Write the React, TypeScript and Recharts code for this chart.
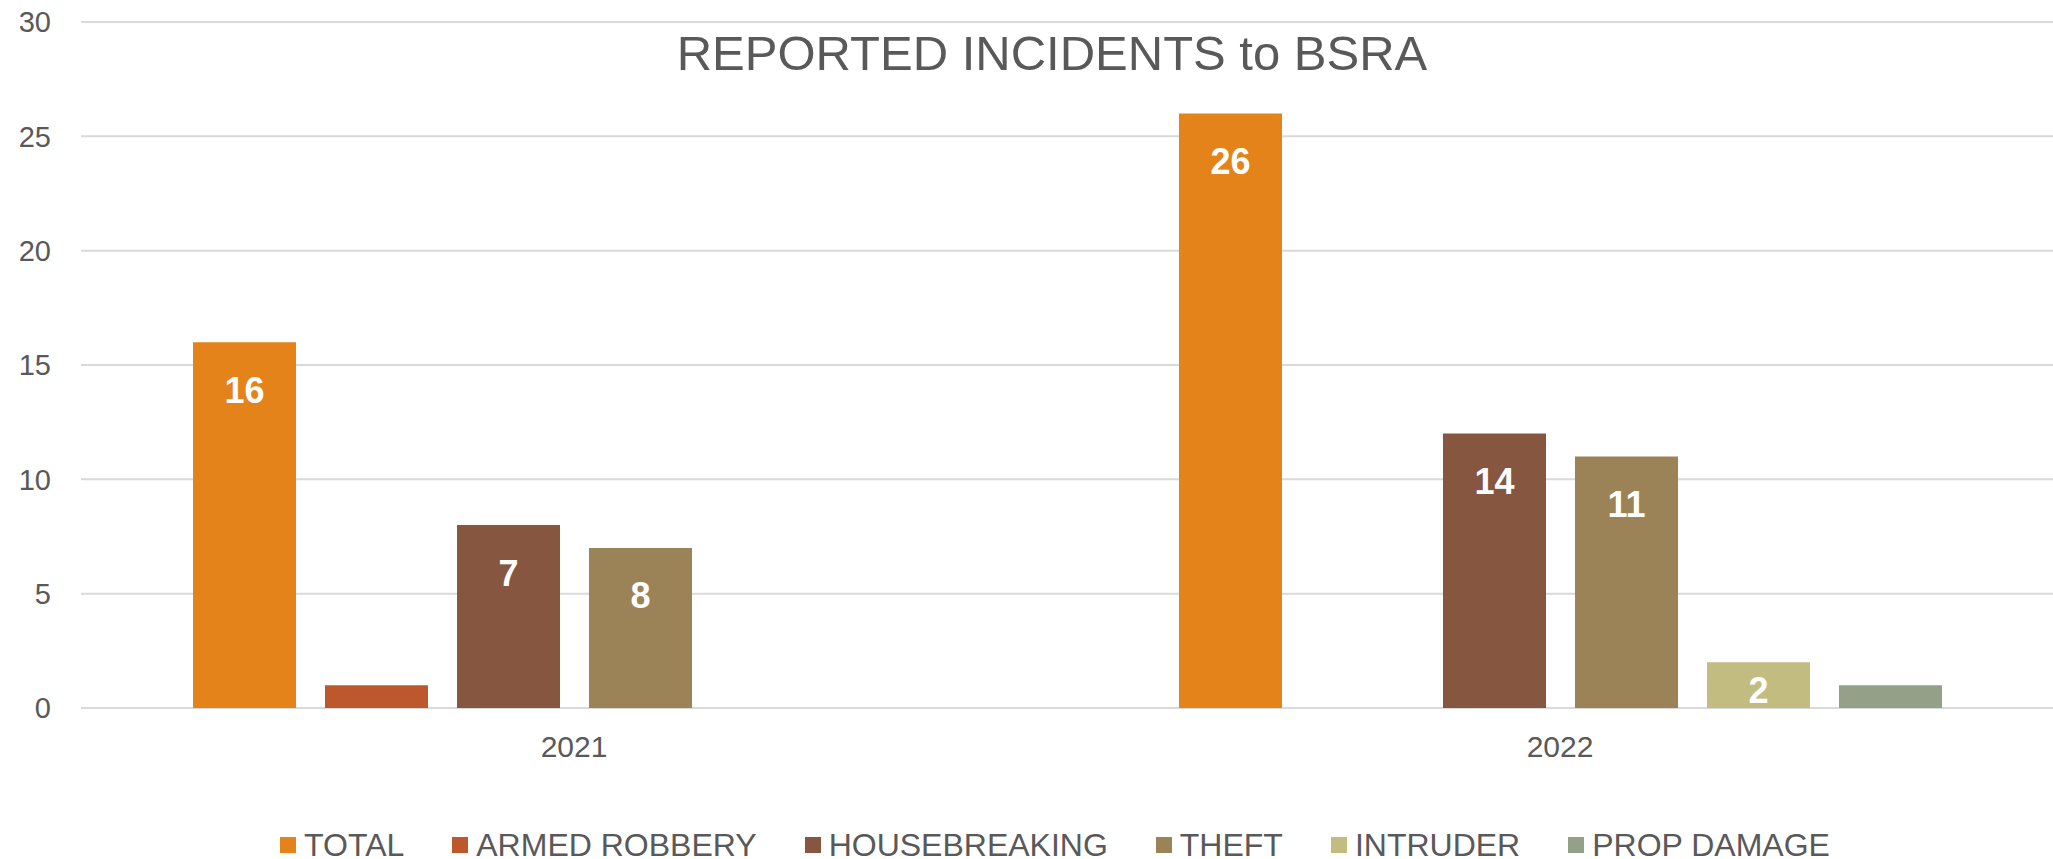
import { BarChart, Bar, XAxis, YAxis, CartesianGrid, Legend, LabelList } from "recharts";

const years = ["2021", "2022"];
const seriesNames = ["TOTAL", "ARMED ROBBERY", "HOUSEBREAKING", "THEFT", "INTRUDER", "PROP DAMAGE"];
const seriesColors = ["#E4831A", "#BD582C", "#865640", "#9B8357", "#C2BC80", "#94A088"];

// bar heights as drawn
const total = [16, 26];
const armedRobbery = [1, 0];
const housebreaking = [8, 12];
const theft = [7, 11];
const intruder = [0, 2];
const propDamage = [0, 1];

// data labels as printed on the bars (they don't always match the bar height)
const totalLabels = ["16", "26"];
const armedLabels = ["", ""];
const houseLabels = ["7", "14"];
const theftLabels = ["8", "11"];
const intruderLabels = ["", "2"];
const propLabels = ["", ""];

const yTicks = [0, 5, 10, 15, 20, 25, 30];

const values = [total, armedRobbery, housebreaking, theft, intruder, propDamage];
const labels = [totalLabels, armedLabels, houseLabels, theftLabels, intruderLabels, propLabels];

const data = years.map((year, i) => {
  const row: Record<string, string | number> = { year };
  seriesNames.forEach((name, s) => {
    row[name] = values[s][i];
    row[name + "_label"] = labels[s][i];
  });
  return row;
});

const FONT = "'Liberation Sans', Arial, sans-serif";
const TEXT = "#595959";

function BarLabel(props: any) {
  const { x, y, width, height, value } = props;
  if (!value) return null;
  const cy = y + Math.min(48, height - 18);
  return (
    <text
      x={x + width / 2}
      y={cy}
      textAnchor="middle"
      dominantBaseline="central"
      fill="#ffffff"
      fontFamily={FONT}
      fontWeight="bold"
      fontSize={36}
    >
      {value}
    </text>
  );
}

function LegendContent() {
  return (
    <div
      style={{
        height: 40,
        display: "flex",
        justifyContent: "center",
        alignItems: "center",
        gap: 48,
        paddingLeft: 57,
        fontFamily: FONT,
        fontSize: 32,
        color: TEXT,
      }}
    >
      {seriesNames.map((name, i) => (
        <div key={name} style={{ display: "flex", alignItems: "center" }}>
          <span
            style={{
              width: 16,
              height: 16,
              background: seriesColors[i],
              marginRight: 8,
              display: "inline-block",
            }}
          />
          <span style={{ lineHeight: "40px" }}>{name}</span>
        </div>
      ))}
    </div>
  );
}

export default function App() {
  return (
    <div style={{ position: "absolute", left: 0, top: 0, width: 2053, height: 859, background: "#fff" }}>
      <div
        style={{
          position: "absolute",
          left: 0,
          top: 23,
          width: 2104,
          textAlign: "center",
          fontFamily: FONT,
          fontSize: 49,
          lineHeight: "60px",
          color: TEXT,
          zIndex: 2,
        }}
      >
        REPORTED INCIDENTS to BSRA
      </div>
      <BarChart
        width={2053}
        height={859}
        data={data}
        margin={{ top: 22, right: 0, left: 3, bottom: 0 }}
        barSize={103}
        barGap={29}
      >
        <CartesianGrid vertical={false} stroke="#D9D9D9" strokeWidth={2} />
        <XAxis
          dataKey="year"
          height={111}
          axisLine={false}
          tickLine={false}
          tickSize={0}
          tickMargin={28}
          tick={{ fill: TEXT, fontSize: 30, fontFamily: FONT }}
        />
        <YAxis
          width={78}
          domain={[0, 30]}
          ticks={yTicks}
          axisLine={false}
          tickLine={false}
          tickSize={0}
          tickMargin={30}
          tick={{ fill: TEXT, fontSize: 29, fontFamily: FONT }}
        />
        <Legend
          verticalAlign="bottom"
          content={<LegendContent />}
          wrapperStyle={{ top: 825, bottom: "auto", left: 0, width: 2053 }}
        />
        {seriesNames.map((name, i) => (
          <Bar key={name} dataKey={name} fill={seriesColors[i]} isAnimationActive={false}>
            <LabelList dataKey={name + "_label"} content={<BarLabel />} />
          </Bar>
        ))}
      </BarChart>
    </div>
  );
}
